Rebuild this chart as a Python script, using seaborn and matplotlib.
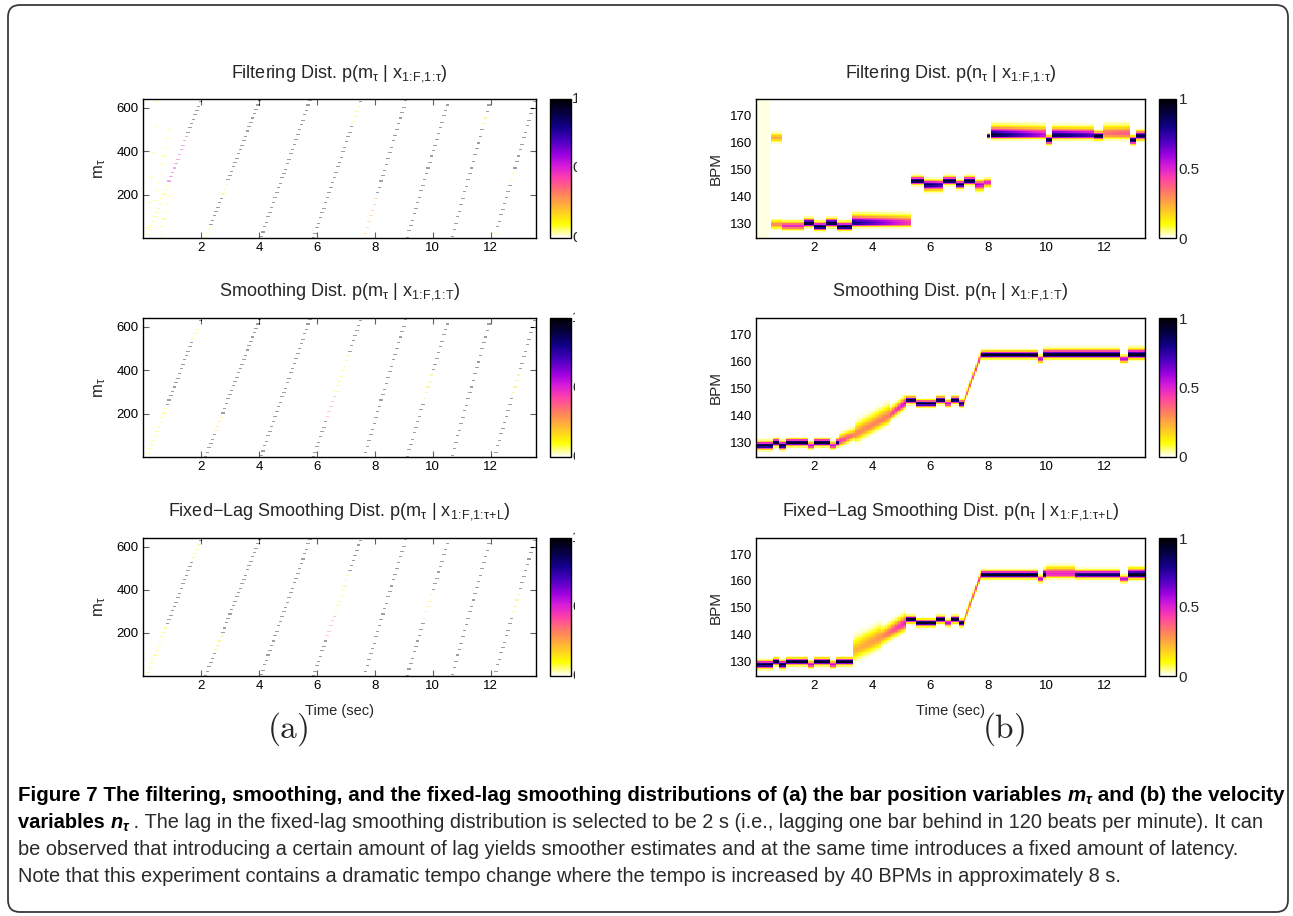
import numpy as np
import pandas as pd
import seaborn as sns
import matplotlib
matplotlib.use("Agg")
import matplotlib.pyplot as plt
from matplotlib.colors import LinearSegmentedColormap, Normalize
from matplotlib.cm import ScalarMappable
from matplotlib.patches import FancyBboxPatch
from matplotlib.transforms import Bbox, IdentityTransform

sns.set_theme(style="white")
FONT = ["Liberation Sans", "DejaVu Sans"]
plt.rcParams["font.family"] = FONT
plt.rcParams["mathtext.fontset"] = "custom"
plt.rcParams["mathtext.rm"] = "Liberation Sans"
plt.rcParams["mathtext.it"] = "Liberation Sans:italic"
plt.rcParams["mathtext.default"] = "regular"

# ---------------- data ----------------
time_ticks = [2, 4, 6, 8, 10, 12]
m_ticks = [200, 400, 600]
bpm_ticks = [130, 140, 150, 160, 170]
cbar_ticks = [0, 0.5, 1]

# bar-position panels: each bar is a dotted ramp of m from 0 to 640
bar_start = [0.10, 2.13, 4.03, 5.85, 7.60, 9.08, 10.63, 12.10]
bar_end = [1.98, 4.01, 5.75, 7.50, 9.05, 10.53, 11.97, 13.50]

# coloured stretches on the bars (bar index, from, to, probability)
filt_m_bar = [0, 0, 1, 1, 3, 4, 6, 7, 7]
filt_m_t0 = [0.10, 0.85, 2.13, 2.72, 7.20, 7.62, 11.70, 12.10, 12.65]
filt_m_t1 = [0.85, 1.48, 2.30, 2.85, 7.45, 8.05, 11.80, 12.20, 12.80]
filt_m_p = [0.10, 0.50, 0.12, 0.12, 0.12, 0.25, 0.15, 0.12, 0.12]
# extra low-probability hypotheses in the filtering distribution
hyp_t0 = [0.15, 0.36, 0.56]
hyp_m0 = [47, 154, 10]
hyp_t1 = [0.45, 0.91, 0.91]
hyp_m1 = [626, 527, 215]
hyp_p = [0.10, 0.10, 0.10]

smooth_m_bar = [0, 0, 1, 3, 3, 5, 7]
smooth_m_t0 = [0.10, 1.70, 2.43, 6.30, 6.60, 9.67, 12.70]
smooth_m_t1 = [0.80, 1.90, 2.70, 6.60, 7.05, 9.93, 12.96]
smooth_m_p = [0.10, 0.12, 0.15, 0.35, 0.12, 0.15, 0.15]

lag_m_bar = [0, 0, 1, 3, 3, 5, 7]
lag_m_t0 = [0.10, 1.70, 2.43, 6.30, 6.60, 9.67, 12.70]
lag_m_t1 = [0.80, 1.90, 2.70, 6.60, 7.05, 9.93, 12.96]
lag_m_p = [0.10, 0.12, 0.15, 0.35, 0.12, 0.15, 0.15]

# tempo panels: segments (t0, t1, bpm0, bpm1, peak0, peak1, spread below, spread above)
filt_n_t0 = [0.50, 0.50, 0.92, 1.64, 2.02, 2.42, 2.79, 3.28, 5.36, 5.82, 6.45, 6.91, 7.14, 7.54, 7.85, 7.95, 8.10, 10.00, 10.20, 11.65, 11.95, 12.90, 13.10]
filt_n_t1 = [0.90, 0.92, 1.64, 2.02, 2.42, 2.79, 3.28, 5.36, 5.82, 6.45, 6.91, 7.14, 7.54, 7.85, 8.10, 8.05, 10.00, 10.20, 11.65, 11.95, 12.90, 13.10, 13.45]
filt_n_b0 = [161.5, 129.5, 129.0, 130.0, 128.7, 130.0, 128.7, 130.0, 145.6, 144.3, 145.6, 144.3, 145.6, 144.3, 145.0, 162.3, 162.5, 160.8, 162.4, 162.2, 163.0, 160.7, 162.3]
filt_n_b1 = [161.5, 129.5, 129.0, 130.0, 128.7, 130.0, 128.7, 130.0, 145.6, 144.3, 145.6, 144.3, 145.6, 144.3, 145.0, 162.3, 162.5, 160.8, 162.4, 162.2, 163.0, 160.7, 162.3]
filt_n_p0 = [0.25, 0.30, 0.50, 0.95, 0.95, 0.95, 0.95, 0.85, 0.95, 0.90, 0.95, 0.90, 0.95, 0.60, 0.50, 0.90, 0.95, 0.90, 0.90, 0.95, 0.35, 0.90, 0.90]
filt_n_p1 = [0.25, 0.30, 0.50, 0.95, 0.95, 0.95, 0.95, 0.45, 0.95, 0.75, 0.95, 0.90, 0.95, 0.55, 0.50, 0.90, 0.55, 0.90, 0.70, 0.95, 0.40, 0.90, 0.90]
filt_n_sl = [0.8, 0.8, 0.8, 0.7, 0.7, 0.7, 0.7, 0.7, 0.7, 1.2, 0.7, 0.8, 0.7, 1.2, 0.8, 0.5, 0.7, 0.8, 0.7, 0.7, 1.0, 0.8, 0.8]
filt_n_sh = [1.0, 0.9, 0.9, 0.9, 0.9, 0.9, 0.9, 1.6, 0.9, 0.9, 0.9, 0.8, 0.9, 0.9, 0.8, 0.5, 1.8, 0.8, 1.6, 0.9, 1.8, 0.8, 1.0]
filt_prior_end = 0.45
filt_prior_level = 0.015

smooth_n_t0 = [0.00, 0.60, 0.78, 1.05, 1.80, 2.00, 2.55, 2.75, 2.85, 3.40, 4.60, 5.15, 5.50, 6.20, 6.50, 6.70, 7.00, 7.15, 7.75, 9.70, 9.90, 12.55, 12.80]
smooth_n_t1 = [0.60, 0.78, 1.05, 1.80, 2.00, 2.55, 2.75, 2.85, 3.40, 4.60, 5.15, 5.50, 6.20, 6.50, 6.70, 7.00, 7.15, 7.75, 9.70, 9.90, 12.55, 12.80, 13.45]
smooth_n_b0 = [128.8, 129.9, 128.8, 129.9, 128.8, 129.9, 128.8, 129.9, 130.0, 132.6, 139.8, 145.6, 144.3, 145.6, 144.3, 145.6, 144.3, 144.3, 162.3, 160.8, 162.3, 160.8, 162.3]
smooth_n_b1 = [128.8, 129.9, 128.8, 129.9, 128.8, 129.9, 128.8, 129.9, 132.6, 139.8, 144.5, 145.6, 144.3, 145.6, 144.3, 145.6, 144.3, 162.3, 162.3, 160.8, 162.3, 160.8, 162.3]
smooth_n_p0 = [0.95, 0.95, 0.95, 0.95, 0.55, 0.95, 0.55, 0.85, 0.45, 0.30, 0.38, 0.95, 0.95, 0.95, 0.55, 0.95, 0.90, 0.35, 0.95, 0.55, 0.95, 0.55, 0.95]
smooth_n_p1 = [0.95, 0.95, 0.95, 0.95, 0.55, 0.95, 0.55, 0.85, 0.32, 0.32, 0.55, 0.95, 0.95, 0.95, 0.55, 0.95, 0.90, 0.50, 0.95, 0.55, 0.95, 0.55, 0.95]
smooth_n_sl = [0.8, 0.7, 0.8, 0.7, 0.7, 0.7, 0.7, 0.7, 0.9, 1.5, 1.0, 0.7, 0.7, 0.7, 0.7, 0.7, 0.7, 0.6, 0.7, 0.7, 0.7, 0.7, 0.8]
smooth_n_sh = [0.8, 0.7, 0.8, 0.7, 0.7, 0.7, 0.7, 0.7, 1.4, 2.3, 1.4, 0.7, 0.7, 0.7, 0.7, 0.7, 0.7, 0.9, 0.8, 0.7, 1.1, 0.7, 1.2]

lag_n_t0 = [0.00, 0.60, 0.78, 1.05, 1.80, 2.00, 2.55, 2.75, 3.35, 4.30, 5.15, 5.50, 6.20, 6.50, 6.70, 7.00, 7.15, 7.75, 9.70, 9.90, 10.00, 11.00, 12.55, 12.80]
lag_n_t1 = [0.60, 0.78, 1.05, 1.80, 2.00, 2.55, 2.75, 3.35, 4.30, 5.15, 5.50, 6.20, 6.50, 6.70, 7.00, 7.15, 7.75, 9.70, 9.90, 10.00, 11.00, 12.55, 12.80, 13.45]
lag_n_b0 = [128.8, 129.9, 128.8, 129.9, 128.8, 129.9, 128.8, 129.9, 133.8, 138.8, 145.6, 144.3, 145.6, 144.3, 145.6, 144.3, 144.3, 162.3, 160.8, 162.3, 162.6, 162.3, 160.8, 162.3]
lag_n_b1 = [128.8, 129.9, 128.8, 129.9, 128.8, 129.9, 128.8, 129.9, 138.8, 144.3, 145.6, 144.3, 145.6, 144.3, 145.6, 144.3, 162.3, 162.3, 160.8, 162.3, 162.6, 162.3, 160.8, 162.3]
lag_n_p0 = [0.95, 0.95, 0.95, 0.95, 0.55, 0.95, 0.55, 0.95, 0.22, 0.28, 0.95, 0.95, 0.95, 0.55, 0.95, 0.90, 0.35, 0.95, 0.55, 0.95, 0.50, 0.85, 0.55, 0.95]
lag_n_p1 = [0.95, 0.95, 0.95, 0.95, 0.55, 0.95, 0.55, 0.95, 0.28, 0.50, 0.95, 0.95, 0.95, 0.55, 0.95, 0.90, 0.50, 0.95, 0.55, 0.95, 0.50, 0.85, 0.55, 0.95]
lag_n_sl = [0.8, 0.7, 0.8, 0.7, 0.7, 0.7, 0.7, 0.7, 2.0, 1.5, 0.7, 0.7, 0.7, 0.7, 0.7, 0.7, 0.6, 0.7, 0.7, 0.7, 0.8, 0.7, 0.7, 0.8]
lag_n_sh = [0.8, 0.7, 0.8, 0.7, 0.7, 0.7, 0.7, 0.7, 2.6, 1.8, 0.7, 0.7, 0.7, 0.7, 0.7, 0.7, 0.9, 0.8, 0.7, 1.0, 1.4, 0.9, 0.7, 1.2]

C = r"\!:\!"
titles_m = [r"Filtering Dist. p(m$_{\tau}$ | x$_{1" + C + r"F{,}1" + C + r"\tau}$)",
            r"Smoothing Dist. p(m$_{\tau}$ | x$_{1" + C + r"F{,}1" + C + r"T}$)",
            r"Fixed$-$Lag Smoothing Dist. p(m$_{\tau}$ | x$_{1" + C + r"F{,}1" + C + r"\tau{+}L}$)"]
titles_n = [r"Filtering Dist. p(n$_{\tau}$ | x$_{1" + C + r"F{,}1" + C + r"\tau}$)",
            r"Smoothing Dist. p(n$_{\tau}$ | x$_{1" + C + r"F{,}1" + C + r"T}$)",
            r"Fixed$-$Lag Smoothing Dist. p(n$_{\tau}$ | x$_{1" + C + r"F{,}1" + C + r"\tau{+}L}$)"]

# ---------------- colour map (MATLAB-like) ----------------
cmap = LinearSegmentedColormap.from_list("prob", [
    (0.00, "#FFFFFF"), (0.10, "#FFFF00"), (0.22, "#FFB833"), (0.33, "#FF7A66"),
    (0.43, "#FF3FAA"), (0.52, "#D51ADB"), (0.60, "#9A00E0"), (0.70, "#4A00C0"),
    (0.80, "#12008A"), (0.90, "#050040"), (1.00, "#000000")])

# ---------------- grids ----------------
DT_L = 0.06
DT = 0.05
M_MAX, M_BIN = 640, 5
T_LEFT = 13.55
T_RIGHT = 13.40
B_LO, B_HI, B_BIN = 124.5, 176.0, 0.5

def m_grid(hl_bar, hl_t0, hl_t1, hl_p, hyps=None):
    ncol = int(round(T_LEFT / DT_L))
    nrow = M_MAX // M_BIN
    g = np.zeros((nrow, ncol))
    tc = (np.arange(ncol) + 0.5) * DT_L
    for b, (ts, te) in enumerate(zip(bar_start, bar_end)):
        for k, t in enumerate(tc):
            if ts <= t <= te:
                m = M_MAX * (t - ts) / (te - ts)
                p = 0.95
                for hb, a, z, hp in zip(hl_bar, hl_t0, hl_t1, hl_p):
                    if hb == b and a <= t <= z:
                        p = hp
                r = min(int(m // M_BIN), nrow - 1)
                for kk in (k, k + 1):
                    if kk < ncol:
                        g[r, kk] = p
    if hyps is not None:
        for a, ma, z, mz, hp in zip(*hyps):
            for k, t in enumerate(tc):
                if a <= t <= z:
                    m = ma + (mz - ma) * (t - a) / (z - a)
                    r = min(int(m // M_BIN), nrow - 1)
                    for kk in (k, k + 1):
                        if kk < ncol:
                            g[r, kk] = max(g[r, kk], hp)
    return g[::-1]  # top row = highest m


def n_grid(t0, t1, b0, b1, p0, p1, sl, sh, prior=None):
    ncol = int(round(T_RIGHT / DT))
    nrow = int(round((B_HI - B_LO) / B_BIN))
    tc = (np.arange(ncol) + 0.5) * DT
    bc = B_LO + (np.arange(nrow) + 0.5) * B_BIN
    g = np.zeros((nrow, ncol))
    for a, z, ba, bz, pa, pz, lo, hi in zip(t0, t1, b0, b1, p0, p1, sl, sh):
        for k, t in enumerate(tc):
            if a <= t < z:
                f = (t - a) / (z - a)
                c = ba + (bz - ba) * f
                pk = pa + (pz - pa) * f
                d = bc - c
                s = np.where(d > 0, hi, lo)
                g[:, k] = np.maximum(g[:, k], pk * np.exp(-0.5 * (d / s) ** 2))
    if prior is not None:
        end, lev = prior
        g[:, tc < end] = np.maximum(g[:, tc < end], lev)
    return g[::-1]  # top row = highest BPM

grids_m = [
    m_grid(filt_m_bar, filt_m_t0, filt_m_t1, filt_m_p, (hyp_t0, hyp_m0, hyp_t1, hyp_m1, hyp_p)),
    m_grid(smooth_m_bar, smooth_m_t0, smooth_m_t1, smooth_m_p),
    m_grid(lag_m_bar, lag_m_t0, lag_m_t1, lag_m_p),
]
grids_n = [
    n_grid(filt_n_t0, filt_n_t1, filt_n_b0, filt_n_b1, filt_n_p0, filt_n_p1, filt_n_sl, filt_n_sh,
           (filt_prior_end, filt_prior_level)),
    n_grid(smooth_n_t0, smooth_n_t1, smooth_n_b0, smooth_n_b1, smooth_n_p0, smooth_n_p1, smooth_n_sl, smooth_n_sh),
    n_grid(lag_n_t0, lag_n_t1, lag_n_b0, lag_n_b1, lag_n_p0, lag_n_p1, lag_n_sl, lag_n_sh),
]

# ---------------- figure ----------------
W, H = 1293, 916
fig = plt.figure(figsize=(W / 100, H / 100), dpi=100)
fig.patch.set_facecolor("white")

def rect(x0, x1, y0, y1):
    return [x0 / W, 1 - y1 / H, (x1 - x0) / W, (y1 - y0) / H]

rows = [(99, 238), (318, 457), (538, 676)]
title_y = [77, 296, 515]
LX0, LX1, LC0, LC1 = 143, 536, 550, 571
RX0, RX1, RC0, RC1 = 756, 1145, 1159, 1176
TICK_FS = 9.5
TITLE_FS = 13

def style_axes(ax):
    for s in ax.spines.values():
        s.set_visible(True)
        s.set_color("black")
        s.set_linewidth(1.0)
    ax.tick_params(direction="in", length=4, width=0.8, colors="black",
                   top=True, right=True, bottom=True, left=True,
                   labelsize=TICK_FS, pad=3)

def add_cbar(x0, x1, y0, y1, clip_x=None):
    cax = fig.add_axes(rect(x0, x1, y0, y1))
    cb = fig.colorbar(ScalarMappable(norm=Normalize(0, 1), cmap=cmap), cax=cax)
    cb.outline.set_linewidth(1.0)
    cb.outline.set_edgecolor("black")
    cb.set_ticks(cbar_ticks)
    cax.tick_params(direction="in", length=2, width=0.6, right=True, left=False)
    if clip_x is None:
        cb.set_ticklabels(["0", "0.5", "1"])
        cax.tick_params(labelsize=11, pad=2)
    else:
        cb.set_ticklabels(["", "", ""])
        for v, lab in zip(cbar_ticks, ["0", "0.5", "1"]):
            yy = y1 - v * (y1 - y0)
            t = fig.text((x1 + 1) / W, 1 - yy / H, lab, ha="left", va="center", fontsize=11)
            t.set_clip_box(Bbox.from_extents(0, 0, clip_x, H))
            t.set_clip_on(True)
    return cax

for i, (y0, y1) in enumerate(rows):
    # ---- left: bar position ----
    ax = fig.add_axes(rect(LX0, LX1, y0, y1))
    df = pd.DataFrame(grids_m[i])
    sns.heatmap(df, ax=ax, cmap=cmap, vmin=0, vmax=1, cbar=False,
                xticklabels=False, yticklabels=False, alpha=0.38)
    ax.set_xticks([t / DT_L for t in time_ticks])
    ax.set_xticklabels([str(t) for t in time_ticks])
    ax.set_yticks([(M_MAX - v) / M_BIN for v in m_ticks])
    ax.set_yticklabels([str(v) for v in m_ticks], rotation=0)
    style_axes(ax)
    ax.set_ylabel(r"m$_{\tau}$", fontsize=12, labelpad=6)
    ax.set_xlabel("")
    fig.text((LX0 + LX1) / 2 / W, 1 - title_y[i] / H, titles_m[i],
             ha="center", va="baseline", fontsize=TITLE_FS)
    add_cbar(LC0, LC1, y0, y1, clip_x=577 if i == 0 else 575)

    # ---- right: tempo ----
    ax = fig.add_axes(rect(RX0, RX1, y0, y1))
    df = pd.DataFrame(grids_n[i])
    sns.heatmap(df, ax=ax, cmap=cmap, vmin=0, vmax=1, cbar=False,
                xticklabels=False, yticklabels=False)
    ax.set_xticks([t / DT for t in time_ticks])
    ax.set_xticklabels([str(t) for t in time_ticks])
    ax.set_yticks([(B_HI - v) / B_BIN for v in bpm_ticks])
    ax.set_yticklabels([str(v) for v in bpm_ticks], rotation=0)
    style_axes(ax)
    ax.set_ylabel("BPM", fontsize=11, labelpad=5)
    ax.set_xlabel("")
    fig.text((RX0 + RX1) / 2 / W, 1 - title_y[i] / H, titles_n[i],
             ha="center", va="baseline", fontsize=TITLE_FS)
    add_cbar(RC0, RC1, y0, y1)

# x labels of bottom row
for (a, b) in [(LX0, LX1), (RX0, RX1)]:
    fig.text((a + b) / 2 / W, 1 - 711 / H, "Time (sec)", ha="center", va="center", fontsize=10.5)

# (a) / (b)
fig.text(288 / W, 1 - 729 / H, r"$\mathrm{(a)}$", ha="center", va="center", fontsize=24, math_fontfamily="cm")
fig.text(1004 / W, 1 - 729 / H, r"$\mathrm{(b)}$", ha="center", va="center", fontsize=24, math_fontfamily="cm")

# outer rounded box
box = FancyBboxPatch((8, 4), 1280, 907, boxstyle="round,pad=0,rounding_size=12",
                     transform=IdentityTransform(), fill=False, edgecolor="#3a3a3a", linewidth=1.3)
fig.patches.append(box)

# ---------------- caption ----------------
renderer = fig.canvas.get_renderer()
CAP_X0 = 18
cap_x1 = [1280, 1270, 1245, 1121]
line_y = [801, 828, 855, 882]
bold = dict(fontweight="bold", color="black")
boldit = dict(fontweight="bold", fontstyle="italic", color="black")
reg = dict(color="#2a2a2a")
cap_lines = [
    [("Figure 7 The filtering, smoothing, and the fixed-lag smoothing distributions of (a) the bar position variables ", bold, 0, 1.0),
     ("m", boldit, 0, 1.0), ("τ", boldit, 3, 0.7), (" and (b) the velocity", bold, 0, 1.0)],
    [("variables ", bold, 0, 1.0), ("n", boldit, 0, 1.0), ("τ", boldit, 3, 0.7),
     (" . The lag in the fixed-lag smoothing distribution is selected to be 2 s (i.e., lagging one bar behind in 120 beats per minute). It can", reg, 0, 1.0)],
    [("be observed that introducing a certain amount of lag yields smoother estimates and at the same time introduces a fixed amount of latency.", reg, 0, 1.0)],
    [("Note that this experiment contains a dramatic tempo change where the tempo is increased by 40 BPMs in approximately 8 s.", reg, 0, 1.0)],
]

def line_width(runs, fs):
    w = 0
    for txt, kw, dy, sc in runs:
        t = fig.text(0, 0, txt.replace(" ", "\u00a0"), fontsize=fs * sc, **kw)
        w += t.get_window_extent(renderer).width
        t.remove()
    return w

base = 12.0
for runs, yy, x1 in zip(cap_lines, line_y, cap_x1):
    fs = base * (x1 - CAP_X0) / line_width(runs, base)
    x = CAP_X0
    for txt, kw, dy, sc in runs:
        t = fig.text(x / W, 1 - (yy + dy) / H, txt.replace(" ", "\u00a0"),
                     ha="left", va="baseline", fontsize=fs * sc, **kw)
        x += t.get_window_extent(renderer).width

fig.savefig("out.png", dpi=100, facecolor="white")
